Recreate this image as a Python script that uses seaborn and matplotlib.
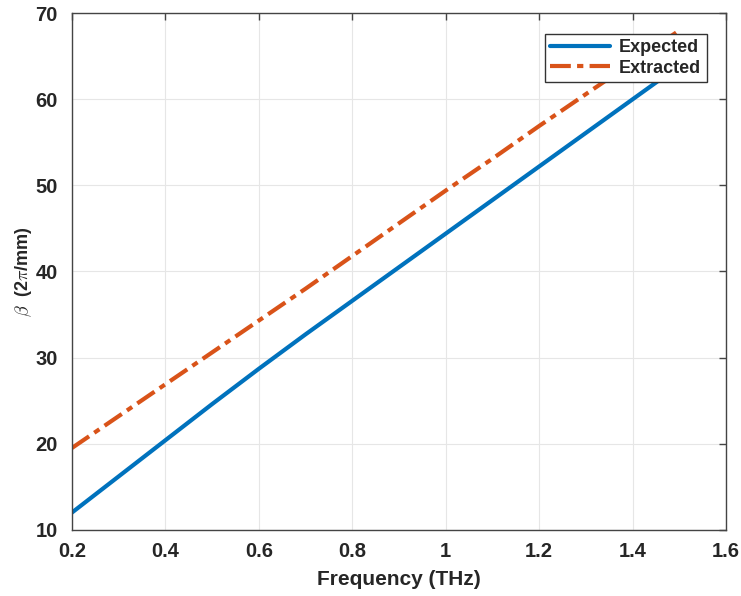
import numpy as np
import pandas as pd
import matplotlib
matplotlib.use("Agg")
import matplotlib.pyplot as plt
import seaborn as sns

# Values
freq_thz  = [0.2, 0.3, 0.4, 0.5, 0.6, 0.7, 0.8, 0.9, 1.0, 1.1, 1.2, 1.3, 1.4, 1.5]
expected  = [12.0, 16.2, 20.4, 24.6, 28.7, 32.7, 36.6, 40.5, 44.4, 48.3, 52.2, 56.1, 60.0, 63.9]
extracted = [19.5, 23.2, 26.9, 30.6, 34.3, 38.0, 41.8, 45.6, 49.4, 53.1, 56.9, 60.6, 64.3, 68.0]

x_ticks = [0.2, 0.4, 0.6, 0.8, 1.0, 1.2, 1.4, 1.6]
x_tick_labels = ["0.2", "0.4", "0.6", "0.8", "1", "1.2", "1.4", "1.6"]
y_ticks = [10, 20, 30, 40, 50, 60, 70]

sns.set_style("white")
plt.rcParams["font.family"] = ["Liberation Sans", "DejaVu Sans"]
plt.rcParams["mathtext.fontset"] = "cm"

df = pd.DataFrame({"freq": freq_thz, "Expected": expected, "Extracted": extracted})

fig = plt.figure(figsize=(7.41, 5.96), dpi=100)
ax = fig.add_axes([0.097, 0.111, 0.883, 0.867])

sns.lineplot(data=df, x="freq", y="Expected", ax=ax, color="#0072BD",
             linewidth=3, label="Expected")
sns.lineplot(data=df, x="freq", y="Extracted", ax=ax, color="#D95319",
             linewidth=3, linestyle=(0, (5, 1.5, 1.5, 1.5)), label="Extracted")

ax.set_xlim(0.2, 1.6)
ax.set_ylim(10, 70)
ax.set_xticks(x_ticks)
ax.set_xticklabels(x_tick_labels)
ax.set_yticks(y_ticks)

ax.grid(True, color="#E6E6E6", linewidth=0.8)
ax.tick_params(axis="both", direction="in", length=5, width=1, colors="#444444",
               labelsize=14.5, labelcolor="#262626", top=True, right=True)
ax.tick_params(axis="x", pad=9)
ax.tick_params(axis="y", pad=10)
for lbl in ax.get_xticklabels() + ax.get_yticklabels():
    lbl.set_fontweight("bold")
for sp in ax.spines.values():
    sp.set_color("#444444")
    sp.set_linewidth(1)

ax.set_xlabel("Frequency (THz)", fontsize=15, fontweight="bold", color="#262626",
              labelpad=6)
ax.set_ylabel(r"$\beta$  (2$\pi$/mm)", fontsize=13, fontweight="bold", color="#262626")
ax.yaxis.set_label_coords(-0.058, 0.5)

leg = ax.legend(loc="upper right", bbox_to_anchor=(0.97, 0.96), fancybox=False,
                edgecolor="#333333", framealpha=1, borderaxespad=0,
                prop={"weight": "bold", "size": 13}, handlelength=3.3,
                labelspacing=0.2, borderpad=0.3, handletextpad=0.5)
leg.get_frame().set_linewidth(1)

fig.savefig("out.png", dpi=100)
plt.close(fig)
